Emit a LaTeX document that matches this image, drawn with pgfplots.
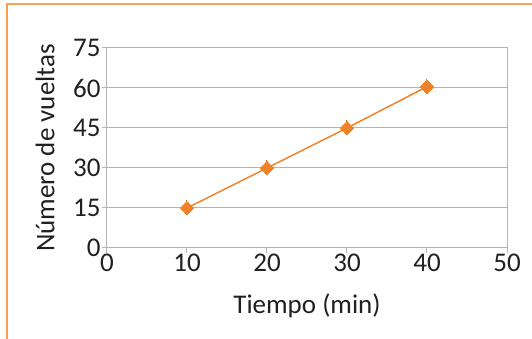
\documentclass[border=0pt]{standalone}
\usepackage{fontspec}
\setmainfont{Carlito}
\usepackage{pgfplots}
\pgfplotsset{compat=1.18}
\definecolor{frameor}{RGB}{248,160,80}
\definecolor{lineor}{RGB}{240,130,40}
\definecolor{gridg}{RGB}{180,180,184}
\definecolor{txt}{RGB}{35,31,32}
\begin{document}
\begin{tikzpicture}[x=1pt,y=1pt]
\useasboundingbox (-107,-91) rectangle (425,248);
\draw[frameor, line width=1.5pt] (-100,-91) -- (-100,244) -- (425,244);
\begin{axis}[
  at={(0,0)}, anchor=south west,
  scale only axis, width=400pt, height=200pt,
  xmin=0, xmax=50, ymin=0, ymax=75,
  xtick={0,10,...,50}, ytick={0,15,...,75},
  axis line style={gridg, line width=1pt},
  ymajorgrids, grid style={gridg, line width=1pt},
  tick style={gridg, line width=1pt},
  tick align=outside, major tick length=5pt,
  xtick pos=bottom, ytick pos=left,
  /pgf/number format/assume math mode=true,
  ticklabel style={font=\fontsize{27}{30}\selectfont, text=txt},
  xticklabel style={yshift=3pt},
  yticklabel style={xshift=2pt},
  xlabel={Tiempo (min)}, ylabel={Número de vueltas},
  label style={font=\fontsize{27}{30}\selectfont, text=txt},
  xlabel style={at={(axis description cs:0.5,0)}, anchor=center, yshift=-58pt},
  ylabel style={at={(axis description cs:0,0.5)}, anchor=center, yshift=62pt},
  clip=false,
]
\addplot[lineor, line width=1.5pt, mark=diamond*, mark size=7pt, mark options={fill=lineor, draw=lineor, line width=0pt, xscale=1.33}]
  coordinates {(10,15) (20,30) (30,45) (40,60.5)};
\end{axis}
\end{tikzpicture}
\end{document}
